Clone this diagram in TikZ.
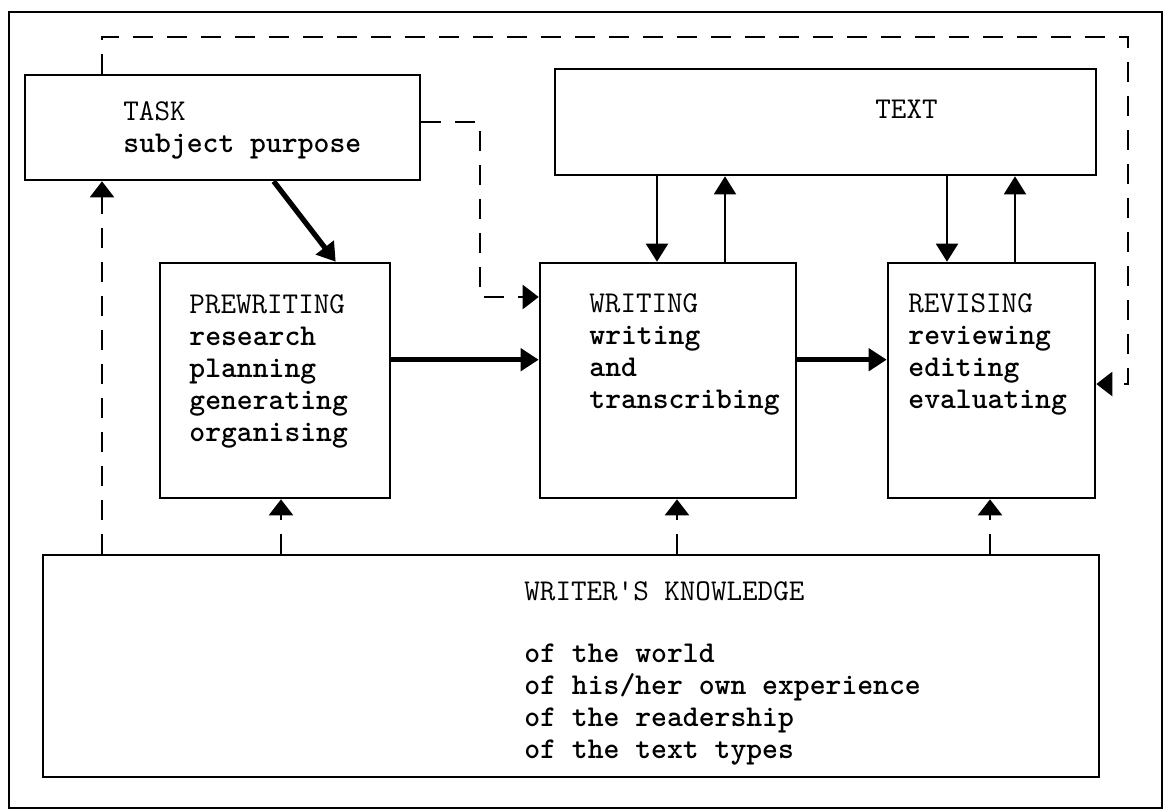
\documentclass[tikz,border=0pt]{standalone}
\usepackage{fontspec}
\usetikzlibrary{calc}
\usetikzlibrary{arrows.meta}
\usetikzlibrary{positioning}
\usetikzlibrary{fit}
\tikzset{stage/.style={rectangle,draw=black,line width=1.3pt,inner sep=0pt}}
\tikzset{blurb/.style={anchor=north west,inner sep=0pt,align=left,font=\ttfamily\fontsize{15.1}{16}\selectfont}}
\tikzset{flow/.style={line width=2.6pt,-{Triangle[length=9pt,width=11pt]}}}
\tikzset{link/.style={line width=1pt,-{Triangle[length=9pt,width=11pt]}}}
\tikzset{fb/.style={line width=1.2pt,dash pattern=on 10pt off 7pt,-{Triangle[length=8pt,width=12pt]}}}

\begin{document}
\begin{tikzpicture}[x=0.5pt,y=-0.5pt]
\useasboundingbox (0,0) rectangle (1169,811);

% boxes
\node (frame) [stage,fit={(9,12) (1162,808)}] {};
\node (task) [stage,fit={(25,75) (420,180)}] {};
\node (text) [stage,fit={(555,69) (1096,175)}] {};
\node (prew) [stage,fit={(160,263) (390,498)}] {};
\node (writ) [stage,fit={(540,263) (796,498)}] {};
\node (rev) [stage,fit={(888,263) (1095,498)}] {};
\node (know) [stage,fit={(43,555) (1099,777)}] {};

% texts
\node (tasktxt) at (123,101.5) [blurb] {TASK\\\textbf{subject purpose}};
\node (texttxt) at (875,99.5) [blurb] {TEXT};
\node (prewtxt) at (189,294.5) [blurb] {PREWRITING\\\textbf{research}\\\textbf{planning}\\\textbf{generating}\\\textbf{organising}};
\node (writtxt) at (589,293.5) [blurb] {WRITING\\\textbf{writing}\\\textbf{and}\\\textbf{transcribing}};
\node (revtxt) at (908,293.5) [blurb] {REVISING\\\textbf{reviewing}\\\textbf{editing}\\\textbf{evaluating}};
\node (knowtxt) at (524,581.5) [blurb] {WRITER'S KNOWLEDGE\\[15pt]\textbf{of the world}\\\textbf{of his/her own experience}\\\textbf{of the readership}\\\textbf{of the text types}};

% main flow
\draw[flow] ($(task.south west)+(250,0)$) -- ($(prew.north west)+(177,0)$);
\draw[flow] ($(prew.north east)+(0,98)$) -- ($(writ.north west)+(0,98)$);
\draw[flow] ($(writ.north east)+(0,98)$) -- ($(rev.north west)+(0,98)$);

% text exchange
\foreach \n/\x in {wd/657,wu/725,rd/947,ru/1015,kt/102,kp/281,kw/677,kr/990}
	\coordinate (\n) at (\x,0);
\draw[link] (text.south -| wd) -- (writ.north -| wd);
\draw[link] (writ.north -| wu) -- (text.south -| wu);
\draw[link] (text.south -| rd) -- (rev.north -| rd);
\draw[link] (rev.north -| ru) -- (text.south -| ru);

% knowledge feeds
\foreach \b/\c in {task/kt,prew/kp,writ/kw,rev/kr}
	\draw[fb] (know.north -| \c) -- (\b.south -| \c);

% task to writing, task to revising
\coordinate (twa) at (480,122);
\coordinate (twb) at (480,297);
\draw[fb] (task.east |- twa) -- (twa) -- (twb) -- (writ.west |- twb);
\coordinate (loopc) at (1128,37);
\coordinate (loopr) at (0,384);
\draw[fb] (task.north -| kt) |- (loopc) |- (rev.east |- loopr);

\end{tikzpicture}
\end{document}
